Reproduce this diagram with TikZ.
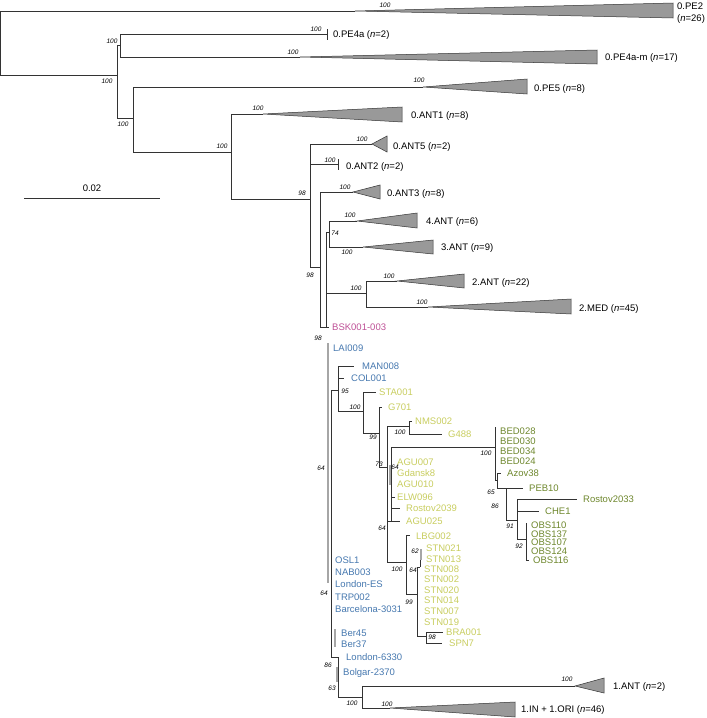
\documentclass[tikz,border=0pt]{standalone}
\usepackage{fontspec}
\newfontfamily\lblfont{Liberation Sans}
\newcommand\lblsz{\lblfont\fontsize{9.5}{11}\selectfont}
\newcommand\bssz{\lblfont\itshape\fontsize{6.5}{7}\selectfont}
\definecolor{cblue}{RGB}{70,120,175}
\definecolor{cyel}{RGB}{200,205,95}
\definecolor{cgrn}{RGB}{110,135,45}
\definecolor{cpink}{RGB}{190,80,150}
\tikzset{
  br/.style={draw=black!80, line width=0.6pt},
  lab/.style={anchor=west, inner sep=0pt, text height=6.8pt, text depth=0pt, font=\lblsz},
  bs/.style={inner sep=0pt, font=\bssz},
  tri/.style={draw=black!80, fill=black!40, line width=0.5pt, line join=miter},
  pbar/.style={draw=black!35, line width=1.6pt},
}
\begin{document}
\begin{tikzpicture}[x=1pt,y=-1pt]
\useasboundingbox (0,0) rectangle (707,718);
% ---- internal nodes ----
\coordinate (R) at (0,43);
\coordinate (N1) at (117,75);
\coordinate (N2) at (120,45);
\coordinate (N3) at (133,118);
\coordinate (N4) at (231,152);
\coordinate (N5) at (310,199);
\coordinate (N6) at (320,267);
\coordinate (N7) at (326,327);
\coordinate (N8) at (329,232);
\coordinate (N9) at (366,293);
\coordinate (N10) at (331,390);
\coordinate (N11) at (338,390);
\coordinate (N12) at (363,411);
\coordinate (N13) at (379,433);
\coordinate (N14) at (387,467);
\coordinate (N15) at (409,426);
\coordinate (N16) at (391,521);
\coordinate (N17) at (406,562);
\coordinate (N18) at (495,447);
\coordinate (N19) at (497,480);
\coordinate (N20) at (506,488);
\coordinate (N21) at (517,520);
\coordinate (N22) at (526,539);
\coordinate (N23) at (417,594);
\coordinate (N24) at (420,567);
\coordinate (N25) at (426,636);
\coordinate (N26) at (338,657);
\coordinate (N27) at (362,697);
% ---- tips / apices ----
\coordinate (pe2) at (355,11);
\coordinate (pe4a) at (327,34);
\coordinate (pe4am) at (300,57);
\coordinate (pe5) at (423,87);
\coordinate (ant1) at (263,114);
\coordinate (ant5) at (372,144);
\coordinate (ant2) at (338,164);
\coordinate (ant3) at (353,192);
\coordinate (a4) at (357,221);
\coordinate (a3) at (363,247);
\coordinate (a2) at (397,281);
\coordinate (med) at (428,307);
\coordinate (bskE) at (329,327);
\coordinate (manE) at (354,366);
\coordinate (colE) at (344,378);
\coordinate (staE) at (376,392);
\coordinate (g701E) at (382,407);
\coordinate (nmsE) at (412,421);
\coordinate (g488E) at (442,434);
\coordinate (bedT) at (495,427);
\coordinate (elwE) at (395,497);
\coordinate (rosE) at (400,508);
\coordinate (aguE) at (400,521);
\coordinate (azovE) at (501,473);
\coordinate (pebE) at (523,488);
\coordinate (ros33E) at (577,499);
\coordinate (cheE) at (539,511);
\coordinate (obsT) at (526,523);
\coordinate (obs116E) at (529,560);
\coordinate (lbgE) at (410,535);
\coordinate (stnT) at (420,550);
\coordinate (braE) at (443,632);
\coordinate (spnE) at (442,643);
\coordinate (blueT) at (331,657);
\coordinate (l6330E) at (339,657);
\coordinate (a1) at (575,686);
\coordinate (in1) at (390,708);
% ---- branches ----
\draw[br] (R) |- (pe2);
\draw[br] (R) |- (N1);
\draw[br] (N1) |- (N2);
\draw[br] (N1) |- (N3);
\draw[br] (N2) |- (pe4a);
\draw[br] (N2) |- (pe4am);
\draw[br] (N3) |- (pe5);
\draw[br] (N3) |- (N4);
\draw[br] (N4) |- (ant1);
\draw[br] (N4) |- (N5);
\draw[br] (N5) |- (ant5);
\draw[br] (N5) |- (ant2);
\draw[br] (N5) |- (N6);
\draw[br] (N6) |- (ant3);
\draw[br] (N6) |- (N7);
\draw[br] (N7) |- (N8);
\draw[br] (N7) |- (N9);
\draw[br] (N7) -- (bskE);
\draw[br] (N8) |- (a4);
\draw[br] (N8) |- (a3);
\draw[br] (N9) |- (a2);
\draw[br] (N9) |- (med);
\draw[pbar] (328,343) -- (328,583);
\draw[br] (N10) -- (N11);
\draw[br] (N10) -- (blueT) -- (l6330E);
\draw[br] (N11) |- (manE);
\draw[br] (N11) |- (colE);
\draw[br] (N11) |- (N12);
\draw[br] (N12) |- (staE);
\draw[br] (N12) |- (N13);
\draw[br] (N13) |- (g701E);
\draw[br] (N13) |- (N14);
\draw[br] (N14) |- (N15);
\draw[br] (N14) |- (N16);
\draw[br] (N14) |- (N17);
\draw[br] (N15) |- (nmsE);
\draw[br] (N15) |- (g488E);
\draw[br] (N16) |- (N18);
\draw[br] (N16) |- (elwE);
\draw[br] (N16) |- (rosE);
\draw[br] (N16) -- (aguE);
\draw[pbar] (390,465) -- (390,485);
\draw[br] (N18) -- (bedT);
\draw[br] (N18) |- (N19);
\draw[br] (N19) |- (azovE);
\draw[br] (N19) |- (N20);
\draw[br] (N20) -- (pebE);
\draw[br] (N20) |- (N21);
\draw[br] (N21) |- (ros33E);
\draw[br] (N21) |- (cheE);
\draw[br] (N21) |- (N22);
\draw[br] (N22) -- (obsT);
\draw[br] (N22) |- (obs116E);
\draw[br] (N17) |- (lbgE);
\draw[br] (N17) |- (N23);
\draw[br] (N23) |- (N24);
\draw[br] (N23) |- (N25);
\draw[br] (N24) -- (stnT);
\draw[pbar] (421,549) -- (421,560);
\draw[br] (N25) |- (braE);
\draw[br] (N25) |- (spnE);
\draw[pbar] (335,629) -- (335,647);
\draw[pbar] (337,667) -- (337,682);
\draw[br] (l6330E) -- (N26);
\draw[br] (N26) |- (N27);
\draw[br] (N27) |- (a1);
\draw[br] (N27) |- (in1);
% ticks for collapsed pairs
\draw[br] (327,29) -- (327,40);
\draw[br] (338,159) -- (338,170);
% ---- collapsed clade triangles ----
\draw[tri] (pe2) -- (673,3) -- (673,18) -- cycle;
\draw[tri] (pe4am) -- (597,50) -- (597,64) -- cycle;
\draw[tri] (pe5) -- (527,79) -- (527,94) -- cycle;
\draw[tri] (ant1) -- (402,107) -- (402,122) -- cycle;
\draw[tri] (ant5) -- (387,136) -- (387,152) -- cycle;
\draw[tri] (ant3) -- (380,185) -- (380,199) -- cycle;
\draw[tri] (a4) -- (417,213) -- (417,228) -- cycle;
\draw[tri] (a3) -- (433,240) -- (433,254) -- cycle;
\draw[tri] (a2) -- (464,274) -- (464,288) -- cycle;
\draw[tri] (med) -- (571,299) -- (571,314) -- cycle;
\draw[tri] (a1) -- (604,678) -- (604,693) -- cycle;
\draw[tri] (in1) -- (515,702) -- (515,717) -- cycle;
% ---- scale bar ----
\draw[br] (24,198) -- (160,198);
\node[inner sep=0pt, font=\lblsz] (scale) at (92,188) {0.02};
% ---- clade labels ----
\node[lab] (lpe2) at (677,6) {0.PE2};
\node[lab] (lpe2n) at (677,18) {(\textit{n}=26)};
\node[lab] (lpe4a) at (333,34) {0.PE4a (\textit{n}=2)};
\node[lab] (lpe4am) at (605,57) {0.PE4a-m (\textit{n}=17)};
\node[lab] (lpe5) at (534,88) {0.PE5 (\textit{n}=8)};
\node[lab] (lant1) at (411,115) {0.ANT1 (\textit{n}=8)};
\node[lab] (lant5) at (393,146) {0.ANT5 (\textit{n}=2)};
\node[lab] (lant2) at (346,166) {0.ANT2 (\textit{n}=2)};
\node[lab] (lant3) at (387,193) {0.ANT3 (\textit{n}=8)};
\node[lab] (l4ant) at (426,221) {4.ANT (\textit{n}=6)};
\node[lab] (l3ant) at (441,247) {3.ANT (\textit{n}=9)};
\node[lab] (l2ant) at (472,282) {2.ANT (\textit{n}=22)};
\node[lab] (l2med) at (579,308) {2.MED (\textit{n}=45)};
\node[lab] (l1ant) at (613,686) {1.ANT (\textit{n}=2)};
\node[lab] (l1in) at (521,709) {1.IN + 1.ORI (\textit{n}=46)};
% ---- sample labels ----
\node[lab, text=cpink] (lbsk) at (332,327) {BSK001-003};
\node[lab, text=cblue] (llai) at (333,348) {LAI009};
\node[lab, text=cblue] (lman) at (362,366) {MAN008};
\node[lab, text=cblue] (lcol) at (351,378) {COL001};
\node[lab, text=cyel] (lsta) at (379,392) {STA001};
\node[lab, text=cyel] (lg701) at (388,407) {G701};
\node[lab, text=cyel] (lnms) at (415,421) {NMS002};
\node[lab, text=cyel] (lg488) at (448,434) {G488};
\node[lab, text=cgrn] (lbed1) at (500,431) {BED028};
\node[lab, text=cgrn] (lbed2) at (500,441) {BED030};
\node[lab, text=cgrn] (lbed3) at (500,451) {BED034};
\node[lab, text=cgrn] (lbed4) at (500,461) {BED024};
\node[lab, text=cyel] (lagu7) at (397,462) {AGU007};
\node[lab, text=cyel] (lgd) at (397,473) {Gdansk8};
\node[lab, text=cyel] (lagu10) at (397,484) {AGU010};
\node[lab, text=cyel] (lelw) at (397,497) {ELW096};
\node[lab, text=cyel] (lros39) at (406,508) {Rostov2039};
\node[lab, text=cyel] (lagu25) at (406,521) {AGU025};
\node[lab, text=cgrn] (lazov) at (507,473) {Azov38};
\node[lab, text=cgrn] (lpeb) at (529,488) {PEB10};
\node[lab, text=cgrn] (lros33) at (583,499) {Rostov2033};
\node[lab, text=cgrn] (lche) at (545,511) {CHE1};
\node[lab, text=cgrn] (lobs1) at (531,525) {OBS110};
\node[lab, text=cgrn] (lobs2) at (531,534) {OBS137};
\node[lab, text=cgrn] (lobs3) at (531,542) {OBS107};
\node[lab, text=cgrn] (lobs4) at (531,551) {OBS124};
\node[lab, text=cgrn] (lobs5) at (533,560) {OBS116};
\node[lab, text=cyel] (llbg) at (416,536) {LBG002};
\node[lab, text=cyel] (ls1) at (426,548) {STN021};
\node[lab, text=cyel] (ls2) at (426,559) {STN013};
\node[lab, text=cyel] (ls3) at (424,569) {STN008};
\node[lab, text=cyel] (ls4) at (424,579) {STN002};
\node[lab, text=cyel] (ls5) at (424,590) {STN020};
\node[lab, text=cyel] (ls6) at (424,600) {STN014};
\node[lab, text=cyel] (ls7) at (424,611) {STN007};
\node[lab, text=cyel] (ls8) at (424,622) {STN019};
\node[lab, text=cyel] (lbra) at (446,632) {BRA001};
\node[lab, text=cyel] (lspn) at (449,643) {SPN7};
\node[lab, text=cblue] (losl) at (335,560) {OSL1};
\node[lab, text=cblue] (lnab) at (335,572) {NAB003};
\node[lab, text=cblue] (lles) at (335,584) {London-ES};
\node[lab, text=cblue] (ltrp) at (335,597) {TRP002};
\node[lab, text=cblue] (lbar) at (335,609) {Barcelona-3031};
\node[lab, text=cblue] (lb45) at (341,633) {Ber45};
\node[lab, text=cblue] (lb37) at (341,644) {Ber37};
\node[lab, text=cblue] (ll63) at (346,657) {London-6330};
\node[lab, text=cblue] (lbol) at (343,672) {Bolgar-2370};
% ---- bootstrap values ----
\node[bs] (b1) at (385,5) {100};
\node[bs] (b2) at (112,41) {100};
\node[bs] (b3) at (316,29) {100};
\node[bs] (b4) at (293,52) {100};
\node[bs] (b5) at (107,81) {100};
\node[bs] (b6) at (123,124) {100};
\node[bs] (b7) at (419,80) {100};
\node[bs] (b8) at (222,146) {100};
\node[bs] (b9) at (258,108) {100};
\node[bs] (b10) at (302,193) {98};
\node[bs] (b11) at (362,139) {100};
\node[bs] (b12) at (330,160) {100};
\node[bs] (b13) at (345,187) {100};
\node[bs] (b14) at (310,275) {98};
\node[bs] (b15) at (350,215) {100};
\node[bs] (b16) at (347,252) {100};
\node[bs] (b17) at (335,233) {74};
\node[bs] (b18) at (356,288) {100};
\node[bs] (b19) at (389,276) {100};
\node[bs] (b20) at (422,302) {100};
\node[bs] (b21) at (318,338) {98};
\node[bs] (b22) at (321,468) {64};
\node[bs] (b23) at (345,391) {95};
\node[bs] (b24) at (355,407) {100};
\node[bs] (b25) at (373,437) {99};
\node[bs] (b26) at (400,432) {100};
\node[bs] (b27) at (379,464) {73};
\node[bs] (b28) at (395,467) {64};
\node[bs] (b29) at (486,453) {100};
\node[bs] (b30) at (491,492) {65};
\node[bs] (b31) at (495,506) {86};
\node[bs] (b32) at (510,526) {91};
\node[bs] (b33) at (519,546) {92};
\node[bs] (b34) at (382,528) {64};
\node[bs] (b35) at (397,569) {100};
\node[bs] (b36) at (415,551) {62};
\node[bs] (b37) at (413,570) {64};
\node[bs] (b38) at (409,602) {99};
\node[bs] (b39) at (432,637) {98};
\node[bs] (b40) at (324,593) {64};
\node[bs] (b41) at (328,665) {86};
\node[bs] (b42) at (332,688) {63};
\node[bs] (b43) at (352,703) {100};
\node[bs] (b44) at (567,679) {100};
\node[bs] (b45) at (387,704) {100};
\end{tikzpicture}
\end{document}
